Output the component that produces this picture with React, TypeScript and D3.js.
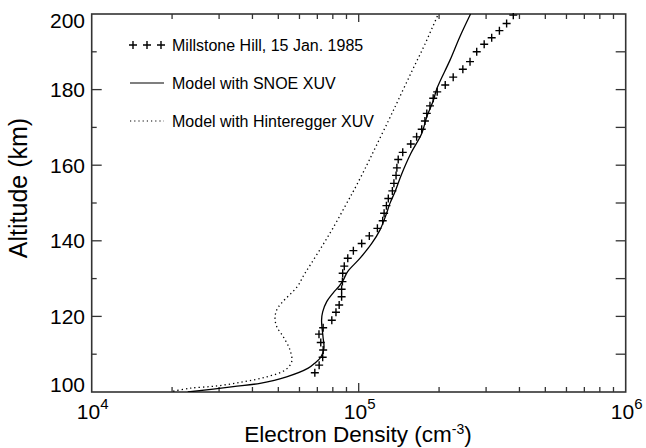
import React, { useRef, useEffect } from "react";
import * as d3 from "d3";

// Millstone Hill incoherent scatter, 15 Jan 1985 (altitude km, Ne cm^-3)
const millstoneAlt = [
  105.1, 107.1, 109.2, 111.1, 113.1, 115.3, 117.0, 119.0, 121.1, 123.0, 125.2, 127.2,
  129.2, 131.4, 133.3, 135.4, 137.4, 139.3, 141.3, 143.3, 145.3, 147.3, 149.3, 151.2,
  153.2, 155.2, 157.3, 159.3, 161.5, 163.4, 165.6, 167.5, 169.5, 171.7, 173.7, 175.7,
  177.7, 179.4, 181.2, 183.3, 185.4, 187.4, 190.0, 192.0, 193.7, 195.6, 197.5, 199.7,
];
const millstoneNe = [
  68500, 71100, 73300, 73600, 72100, 71000, 73600, 79300, 82200, 84500, 86300, 86300,
  86900, 87100, 88300, 91000, 95500, 102600, 109600, 117500, 123000, 124500, 127000, 129100,
  133700, 135500, 138000, 139000, 140600, 146200, 156700, 164800, 172200, 177000, 179900, 184900,
  190100, 196800, 210900, 225900, 245500, 261200, 276700, 295100, 314800, 336500, 358100, 379300,
];

// Model with SNOE XUV
const snoeAlt = [
  100.0, 101.4, 102.3, 104.0, 106.3, 107.6, 109.2, 111.6, 114.6, 119.0, 121.2, 123.9,
  126.3, 128.0, 129.6, 131.8, 135.4, 139.3, 142.9, 146.8, 149.9, 153.0, 157.5, 163.1,
  168.4, 172.8, 177.2, 180.3, 187.8, 194.0, 200.0,
];
const snoeNe = [
  22900, 33900, 42700, 53700, 64700, 68400, 72100, 74100, 73500, 72600, 73300, 75900,
  80400, 84500, 87500, 90800, 101200, 111900, 120200, 126500, 130900, 136800, 144500, 156700,
  172200, 179900, 190500, 196300, 219800, 239300, 262400,
];

// Model with Hinteregger XUV
const hintAlt = [
  100.2, 101.0, 101.6, 102.7, 104.0, 105.8, 108.0, 111.1, 114.6, 117.3, 119.5, 121.7,
  123.6, 127.9, 131.0, 134.0, 138.5, 143.3, 150.8, 153.4, 160.0, 165.0, 172.0, 177.2,
  185.0, 192.0, 200.0,
];
const hintNe = [
  20200, 23300, 29400, 37000, 45200, 53000, 56100, 55300, 52200, 49300, 48600, 49300,
  51500, 58900, 62400, 66400, 72800, 80000, 91600, 96000, 107200, 116100, 129700, 140600,
  158500, 177000, 198600,
];

const yTicks = [100, 120, 140, 160, 180, 200];
const xTicks = [1e4, 1e5, 1e6];
const xExponents = ["4", "5", "6"];

const legendLabels = [
  "Millstone Hill, 15 Jan. 1985",
  "Model with SNOE XUV",
  "Model with Hinteregger XUV",
];

const App = () => {
  const svgRef = useRef<SVGSVGElement>(null);

  useEffect(() => {
    const svg = d3.select(svgRef.current);
    svg.selectAll("*").remove();

    const width = 646;
    const height = 448;
    const left = 91.7, right = 625.7, top = 14, bottom = 392;
    const font = "'Liberation Sans', Arial, Helvetica, sans-serif";
    const axisColor = "#333";

    svg.attr("width", width).attr("height", height);

    const x = d3.scaleLog().domain([1e4, 1e6]).range([left, right]);
    const y = d3.scaleLinear().domain([100, 200]).range([bottom, top]);

    svg.append("defs")
      .append("clipPath")
      .attr("id", "plot-clip")
      .append("rect")
      .attr("x", left)
      .attr("y", top - 1)
      .attr("width", right - left)
      .attr("height", bottom - top + 1);

    // minor x ticks (2..9 per decade) on bottom & top
    const minorX: number[] = [];
    [1e4, 1e5].forEach((d) => {
      for (let k = 2; k <= 9; k++) minorX.push(d * k);
    });
    const tg = svg.append("g").attr("stroke", axisColor).attr("stroke-width", 1.3);
    minorX.forEach((v) => {
      tg.append("line").attr("x1", x(v)).attr("x2", x(v)).attr("y1", bottom).attr("y2", bottom - 5);
      tg.append("line").attr("x1", x(v)).attr("x2", x(v)).attr("y1", top).attr("y2", top + 5);
    });
    tg.append("line").attr("x1", x(1e5)).attr("x2", x(1e5)).attr("y1", bottom).attr("y2", bottom - 9);
    tg.append("line").attr("x1", x(1e5)).attr("x2", x(1e5)).attr("y1", top).attr("y2", top + 8);

    // y ticks: left major/minor, right every 10
    d3.range(110, 200, 10).forEach((v) => {
      const major = v % 20 === 0;
      tg.append("line").attr("x1", left).attr("x2", left + (major ? 10 : 5)).attr("y1", y(v)).attr("y2", y(v));
      tg.append("line").attr("x1", right).attr("x2", right - 10).attr("y1", y(v)).attr("y2", y(v));
    });

    // frame
    svg.append("rect")
      .attr("x", left)
      .attr("y", top)
      .attr("width", right - left)
      .attr("height", bottom - top)
      .attr("fill", "none")
      .attr("stroke", axisColor)
      .attr("stroke-width", 1.6);

    // y tick labels
    svg.append("g")
      .selectAll("text")
      .data(yTicks)
      .enter()
      .append("text")
      .attr("x", 85)
      .attr("y", (d) => (d === 200 ? 27.5 : d === 100 ? 392 : y(d) + 7.5))
      .attr("text-anchor", "end")
      .attr("font-family", font)
      .attr("font-size", 21)
      .attr("fill", "#000")
      .text((d) => d);

    // x tick labels 10^n
    const xl = svg.append("g");
    xTicks.forEach((v, i) => {
      const t = xl.append("text")
        .attr("x", x(v) + 1)
        .attr("y", 419)
        .attr("text-anchor", "middle")
        .attr("font-family", font)
        .attr("font-size", 21)
        .attr("fill", "#000");
      t.append("tspan").text("10");
      t.append("tspan").attr("dy", -10).attr("font-size", 15).text(xExponents[i]);
    });

    // axis titles
    const xt = svg.append("text")
      .attr("x", 358)
      .attr("y", 442)
      .attr("text-anchor", "middle")
      .attr("font-family", font)
      .attr("font-size", 22.5)
      .attr("fill", "#000");
    xt.append("tspan").text("Electron Density (cm");
    xt.append("tspan").attr("dy", -8).attr("font-size", 14).text("-3");
    xt.append("tspan").attr("dy", 8).text(")");

    svg.append("text")
      .attr("transform", "translate(27, 188) rotate(-90)")
      .attr("text-anchor", "middle")
      .attr("font-family", font)
      .attr("font-size", 25)
      .attr("fill", "#000")
      .text("Altitude (km)");

    const line = d3.line<[number, number]>()
      .x((d) => x(d[1]))
      .y((d) => y(d[0]))
      .curve(d3.curveCatmullRom.alpha(0.5));

    const plot = svg.append("g").attr("clip-path", "url(#plot-clip)");

    plot.append("path")
      .attr("d", line(hintAlt.map((a, i) => [a, hintNe[i]] as [number, number])))
      .attr("fill", "none")
      .attr("stroke", "#000")
      .attr("stroke-width", 1.3)
      .attr("stroke-dasharray", "1.3 3");

    plot.append("path")
      .attr("d", line(snoeAlt.map((a, i) => [a, snoeNe[i]] as [number, number])))
      .attr("fill", "none")
      .attr("stroke", "#000")
      .attr("stroke-width", 1.3);

    const plus = (g: any, cx: number, cy: number, r: number) =>
      g.append("path")
        .attr("d", `M${cx - r},${cy}H${cx + r}M${cx},${cy - r}V${cy + r}`)
        .attr("stroke", "#000")
        .attr("stroke-width", 1.4)
        .attr("fill", "none");

    millstoneAlt.forEach((a, i) => plus(plot, x(millstoneNe[i]), y(a), 4));

    // legend
    const lg = svg.append("g");
    [133, 147, 161].forEach((cx) => plus(lg, cx, 45, 4));
    lg.append("line").attr("x1", 130).attr("x2", 164).attr("y1", 83).attr("y2", 83)
      .attr("stroke", "#000").attr("stroke-width", 1.2);
    lg.append("line").attr("x1", 130).attr("x2", 164).attr("y1", 121).attr("y2", 121)
      .attr("stroke", "#000").attr("stroke-width", 1.2).attr("stroke-dasharray", "1.2 3");
    legendLabels.forEach((s, i) => {
      lg.append("text")
        .attr("x", 172)
        .attr("y", 45 + i * 38 + 5.5)
        .attr("font-family", font)
        .attr("font-size", 16)
        .attr("fill", "#000")
        .text(s);
    });
  }, []);

  return (
    <svg
      ref={svgRef}
      style={{ position: "absolute", left: 0, top: 0, display: "block", background: "#fff" }}
    ></svg>
  );
};

export default App;
